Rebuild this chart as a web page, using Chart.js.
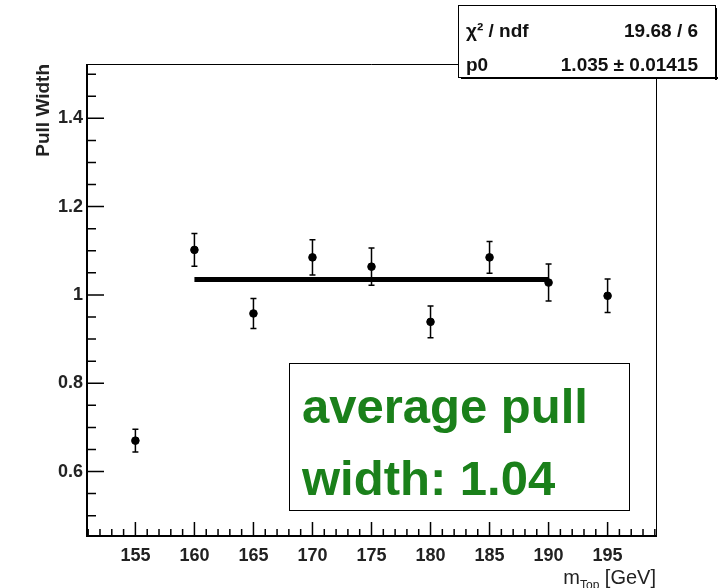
<!DOCTYPE html>
<html>
<head>
<meta charset="utf-8">
<script src="https://cdn.jsdelivr.net/npm/chart.js@4/dist/chart.umd.min.js"></script>
<style>
  html, body { margin: 0; padding: 0; background: #fff; }
  #wrap { width: 728px; height: 588px; }
</style>
</head>
<body>
<div id="wrap"><canvas id="chart" width="728" height="588"></canvas></div>
<script>
// values
const massPoints = [155, 160, 165, 170, 175, 180, 185, 190, 195];
const pullWidth = [0.670, 1.102, 0.958, 1.085, 1.064, 0.939, 1.085, 1.028, 0.998];
const pullWidthErr = [0.026, 0.037, 0.034, 0.040, 0.042, 0.036, 0.036, 0.042, 0.038];
const fitRange = [160, 190];
const fitValue = 1.035;
const xTickValues = [155, 160, 165, 170, 175, 180, 185, 190, 195];
const yTickValues = [0.6, 0.8, 1, 1.2, 1.4];
const statsRows = [["χ² / ndf", "19.68 / 6"], ["p0", "1.035 ± 0.01415"]];
const noteLines = ["average pull", "width: 1.04"];

const GREEN = "#1a801a";
const FONT = '"Liberation Sans", Arial, sans-serif';

const rootStyle = {
  id: "rootStyle",
  beforeDatasetsDraw(chart) {
    const { ctx } = chart;
    const xs = chart.scales.x;
    const ys = chart.scales.y;
    ctx.save();
    ctx.strokeStyle = "#000";
    ctx.lineWidth = 1.5;
    massPoints.forEach((m, i) => {
      const px = xs.getPixelForValue(m);
      const top = ys.getPixelForValue(pullWidth[i] + pullWidthErr[i]);
      const bot = ys.getPixelForValue(pullWidth[i] - pullWidthErr[i]);
      ctx.beginPath();
      ctx.moveTo(px, top);
      ctx.lineTo(px, bot);
      ctx.moveTo(px - 3, top);
      ctx.lineTo(px + 3, top);
      ctx.moveTo(px - 3, bot);
      ctx.lineTo(px + 3, bot);
      ctx.stroke();
    });
    ctx.restore();
  },
  afterDraw(chart) {
    const { ctx, chartArea: a } = chart;
    const xs = chart.scales.x;
    const ys = chart.scales.y;
    ctx.save();
    ctx.strokeStyle = "#000";

    // frame
    ctx.lineWidth = 1;
    ctx.beginPath();
    ctx.moveTo(a.left, a.top + 0.5);
    ctx.lineTo(a.right + 0.5, a.top + 0.5);
    ctx.lineTo(a.right + 0.5, a.bottom);
    ctx.stroke();
    ctx.lineWidth = 2;
    ctx.beginPath();
    ctx.moveTo(a.left, a.top);
    ctx.lineTo(a.left, a.bottom);
    ctx.lineTo(a.right + 1, a.bottom);
    ctx.stroke();

    // tick marks
    ctx.lineWidth = 1.5;
    ctx.beginPath();
    for (let k = Math.ceil(xs.min); k <= Math.floor(xs.max); k++) {
      const px = xs.getPixelForValue(k);
      const len = k % 5 === 0 ? 14 : 7;
      ctx.moveTo(px, a.bottom);
      ctx.lineTo(px, a.bottom - len);
    }
    for (let k = Math.ceil(ys.min / 0.05); k <= Math.floor(ys.max / 0.05); k++) {
      const py = ys.getPixelForValue(k * 0.05);
      const len = k % 4 === 0 ? 17 : 9;
      ctx.moveTo(a.left, py);
      ctx.lineTo(a.left + len, py);
    }
    ctx.stroke();

    // y title
    ctx.fillStyle = "#222";
    ctx.font = "bold 19px " + FONT;
    ctx.save();
    ctx.translate(44, a.top);
    ctx.rotate(-Math.PI / 2);
    ctx.textAlign = "right";
    ctx.textBaseline = "middle";
    ctx.fillText("Pull Width", 0, 0);
    ctx.restore();

    // x title: m_Top [GeV]
    ctx.textBaseline = "alphabetic";
    ctx.textAlign = "left";
    const big = "20px " + FONT;
    const small = "12px " + FONT;
    ctx.font = big;
    const wM = ctx.measureText("m").width;
    const wU = ctx.measureText(" [GeV]").width;
    ctx.font = small;
    const wS = ctx.measureText("Top").width;
    let tx = a.right - (wM + wS + wU);
    ctx.font = big;
    ctx.fillText("m", tx, 584);
    ctx.font = small;
    ctx.fillText("Top", tx + wM, 589);
    ctx.font = big;
    ctx.fillText(" [GeV]", tx + wM + wS, 584);

    // stats box
    const sb = { l: 458, t: 5, w: 257, h: 72 };
    ctx.fillStyle = "#000";
    ctx.fillRect(sb.l + 3, sb.t + sb.h, sb.w, 2);
    ctx.fillRect(sb.l + sb.w, sb.t + 3, 2, sb.h);
    ctx.fillStyle = "#fff";
    ctx.fillRect(sb.l, sb.t, sb.w, sb.h);
    ctx.lineWidth = 1;
    ctx.strokeRect(sb.l + 0.5, sb.t + 0.5, sb.w, sb.h);
    ctx.fillStyle = "#111";
    ctx.font = "bold 19px " + FONT;
    statsRows.forEach((row, i) => {
      const by = sb.t + 32 + i * 34;
      ctx.textAlign = "left";
      ctx.fillText(row[0], sb.l + 8, by);
      ctx.textAlign = "right";
      ctx.fillText(row[1], sb.l + sb.w - 17, by);
    });

    // green note box
    const nb = { l: 289.5, t: 363.5, w: 340, h: 147 };
    ctx.fillStyle = "#fff";
    ctx.fillRect(nb.l, nb.t, nb.w, nb.h);
    ctx.strokeRect(nb.l, nb.t, nb.w, nb.h);
    ctx.fillStyle = GREEN;
    ctx.textAlign = "left";
    ctx.font = "bold 49px " + FONT;
    ctx.fillText(noteLines[0], 302, 423);
    ctx.fillText(noteLines[1], 302, 495);

    ctx.restore();
  },
};

new Chart(document.getElementById("chart"), {
  type: "scatter",
  data: {
    datasets: [
      {
        label: "pull width",
        data: massPoints.map((m, i) => ({ x: m, y: pullWidth[i] })),
        backgroundColor: "#000",
        borderColor: "#000",
        pointRadius: 3.8,
        pointStyle: "circle",
      },
      {
        type: "line",
        label: "fit",
        data: fitRange.map((m) => ({ x: m, y: fitValue })),
        borderColor: "#000",
        borderWidth: 5,
        borderCapStyle: "butt",
        pointRadius: 0,
        fill: false,
      },
    ],
  },
  options: {
    responsive: false,
    animation: false,
    devicePixelRatio: 1,
    layout: { padding: { top: 64, right: 72, left: 0, bottom: 0 } },
    plugins: {
      legend: { display: false },
      tooltip: { enabled: false },
      title: { display: false },
    },
    scales: {
      x: {
        type: "linear",
        min: 150.9,
        max: 199.1,
        grid: { display: false, drawTicks: false },
        border: { display: false },
        afterBuildTicks: (scale) => {
          scale.ticks = xTickValues.map((v) => ({ value: v }));
        },
        afterFit: (scale) => {
          scale.height = 52;
        },
        ticks: {
          padding: 9,
          maxRotation: 0,
          autoSkip: false,
          color: "#222",
          font: { family: FONT, size: 18, weight: "bold" },
          callback: (v) => String(v),
        },
      },
      y: {
        type: "linear",
        min: 0.454,
        max: 1.523,
        grid: { display: false, drawTicks: false },
        border: { display: false },
        afterBuildTicks: (scale) => {
          scale.ticks = yTickValues.map((v) => ({ value: v }));
        },
        afterFit: (scale) => {
          scale.width = 87;
        },
        ticks: {
          padding: 4,
          autoSkip: false,
          color: "#222",
          font: { family: FONT, size: 18, weight: "bold" },
          callback: (v) => String(v),
        },
      },
    },
  },
  plugins: [rootStyle],
});
</script>
</body>
</html>
